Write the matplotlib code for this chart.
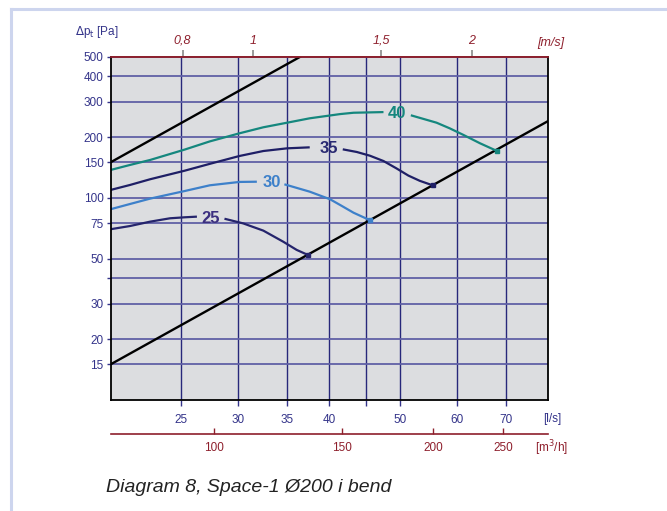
import matplotlib
matplotlib.use("Agg")
import matplotlib.pyplot as plt
from matplotlib.ticker import FixedLocator, NullLocator, FixedFormatter
import numpy as np

plt.rcParams['font.family'] = ['Liberation Sans', 'DejaVu Sans']

# fan curves (l/s, Pa); each is split around its label
q25a = [20, 21.27, 22.67, 24.15, 25.3, 26.3]
p25a = [70.0, 72.6, 76.3, 79.3, 80.2, 80.8]
q25b = [28.7, 30.46, 32.46, 34.58, 36.08, 37.4]
p25b = [78.9, 74.8, 68.9, 60.7, 55.3, 52.2]

q30a = [20, 21.27, 22.67, 25.3, 27.4, 30.1, 31.8]
p30a = [87.9, 93.3, 99.2, 108.2, 115.5, 120.0, 120.3]
q30b = [34.7, 37.6, 40.1, 41.4, 43.2, 45.5]
p30b = [116.8, 107.4, 98.5, 92.3, 84.5, 77.6]

q35a = [20, 21.27, 22.67, 25.3, 27.4, 30.1, 32.46, 35.0, 37.6]
p35a = [109.5, 115.9, 123.7, 136.4, 147.5, 161.3, 170.7, 176, 178]
q35b = [41.75, 43.65, 45.5, 47.5, 49.5, 51.4, 53.3, 55.5]
p35b = [174, 168.8, 161.8, 152.3, 140, 129, 121.5, 115.5]

q40a = [20, 21.27, 22.67, 25.3, 27.4, 30.1, 32.46, 35.0, 37.6, 41.4, 43.2, 47.5]
p40a = [137.5, 145.6, 154.1, 173.5, 190.5, 208.9, 223.7, 235.7, 247.8, 260, 264, 266]
q40b = [51.8, 56.2, 58.6, 61.2, 64.5, 68.0]
p40b = [256.5, 235.7, 221, 205, 186.4, 171]

# system lines
q_up = [20, 36.5]
p_up = [150, 500]
q_low = [20, 80]
p_low = [15, 240]

curve_names = ["25", "30", "35", "40"]
label_q = [27.5, 33.3, 39.9, 49.5]
label_p = [79, 119, 175, 262]

x_ticks = [25, 30, 35, 40, 45, 50, 60, 70]
x_labels = ["25", "30", "35", "40", "", "50", "60", "70"]
y_ticks = [15, 20, 30, 40, 50, 75, 100, 150, 200, 300, 400, 500]
y_labels = ["15", "20", "30", "", "50", "75", "100", "150", "200", "300", "400", "500"]
v_ticks = [0.8, 1, 1.5, 2]
v_labels = ["0,8", "1", "1,5", "2"]
m3h_ticks = [100, 150, 200, 250]
m3h_labels = ["100", "150", "200", "250"]

navy = "#34348a"
dred = "#8e1f2c"
W, H = 667, 511

fig = plt.figure(figsize=(W / 100, H / 100), dpi=100)
ax = fig.add_axes([110.5 / W, 1 - 400 / H, (548 - 110.5) / W, (400 - 56.7) / H])
ax.set_facecolor("#dcdde0")
ax.set_xscale("log")
ax.set_yscale("log")
ax.set_xlim(20, 80)
ax.set_ylim(10, 500)

ax.xaxis.set_major_locator(FixedLocator(x_ticks))
ax.xaxis.set_major_formatter(FixedFormatter(x_labels))
ax.xaxis.set_minor_locator(NullLocator())
ax.yaxis.set_major_locator(FixedLocator(y_ticks))
ax.yaxis.set_major_formatter(FixedFormatter(y_labels))
ax.yaxis.set_minor_locator(NullLocator())
ax.tick_params(axis="x", direction="out", length=4, width=1, color=navy,
               labelcolor=navy, labelsize=8.5, pad=6)
ax.tick_params(axis="y", direction="out", length=3, width=1, color=navy,
               labelcolor=navy, labelsize=8.5, pad=2)

ax.xaxis.grid(True, color="#27277a", lw=1.0)
ax.yaxis.grid(True, color="#6060a6", lw=1.3)
ax.set_axisbelow(True)

for s in ["left", "right", "bottom"]:
    ax.spines[s].set_color("black")
    ax.spines[s].set_linewidth(1.3)
ax.spines["top"].set_color(dred)
ax.spines["top"].set_linewidth(1.3)

# system lines
ax.plot(q_up, p_up, color="black", lw=1.7)
ax.plot(q_low, p_low, color="black", lw=1.7)

# fan curves
curves = [(q25a, p25a, q25b, p25b, "#25246c", "#3c2f80"),
          (q30a, p30a, q30b, p30b, "#3d80ca", "#3d80ca"),
          (q35a, p35a, q35b, p35b, "#1f1f66", "#2a2a72"),
          (q40a, p40a, q40b, p40b, "#15877e", "#15877e")]
for (qa, pa, qb, pb, col, tcol), name, lq, lp in zip(curves, curve_names, label_q, label_p):
    ax.plot(qa, pa, color=col, lw=1.6, solid_capstyle="butt", solid_joinstyle="round")
    ax.plot(qb, pb, color=col, lw=1.6, solid_capstyle="butt", solid_joinstyle="round")
    ax.plot(qb[-1:], pb[-1:], marker="s", ms=3.5, color=col)
    ax.text(lq, lp, name, color=tcol, fontsize=12, fontweight="bold",
            ha="center", va="center")

# top velocity axis (duct 200 mm)
area = np.pi * 0.1 ** 2 * 1000
top = ax.secondary_xaxis("top", functions=(lambda q: q / area, lambda v: v * area))
top.xaxis.set_major_locator(FixedLocator(v_ticks))
top.xaxis.set_major_formatter(FixedFormatter(v_labels))
top.xaxis.set_minor_locator(NullLocator())
top.tick_params(direction="out", length=5, width=1.2, color="#8a8a8a",
                labelcolor=dred, labelsize=9, pad=2)
for t in top.get_xticklabels():
    t.set_fontstyle("italic")
top.spines["top"].set_color(dred)
top.spines["top"].set_linewidth(1.3)

# m3/h axis below
m3 = ax.secondary_xaxis(-0.099, functions=(lambda q: q * 3.6, lambda m: m / 3.6))
m3.xaxis.set_major_locator(FixedLocator(m3h_ticks))
m3.xaxis.set_major_formatter(FixedFormatter(m3h_labels))
m3.xaxis.set_minor_locator(NullLocator())
m3.tick_params(direction="in", length=4, width=1, color=dred,
               labelcolor=dred, labelsize=8.5, pad=6)
m3.spines["bottom"].set_color(dred)
m3.spines["bottom"].set_linewidth(1.2)

def ftext(x, y, s, **kw):
    fig.text(x / W, 1 - y / H, s, **kw)

ftext(75, 32, r"$\Delta$p$_\mathrm{t}$ [Pa]", color=navy, fontsize=8.5, va="center")
ftext(551, 43, "[m/s]", color=dred, fontsize=9, style="italic", ha="center", va="center")
ftext(552, 419, "[l/s]", color=navy, fontsize=8.5, ha="center", va="center")
ftext(551, 448, "[m$^3$/h]", color=dred, fontsize=8.5, ha="center", va="center")
ftext(106, 487, "Diagram 8, Space-1 Ø200 i bend", color="#222222", fontsize=14,
      style="italic", va="center")

# light frame round the figure
fig.add_artist(plt.Line2D([11 / W, 11 / W], [0, 1 - 9 / H], color="#cdd5ee", lw=2.2))
fig.add_artist(plt.Line2D([11 / W, 1], [1 - 9 / H, 1 - 9 / H], color="#cdd5ee", lw=2.2))

fig.savefig("out.png", dpi=100)
